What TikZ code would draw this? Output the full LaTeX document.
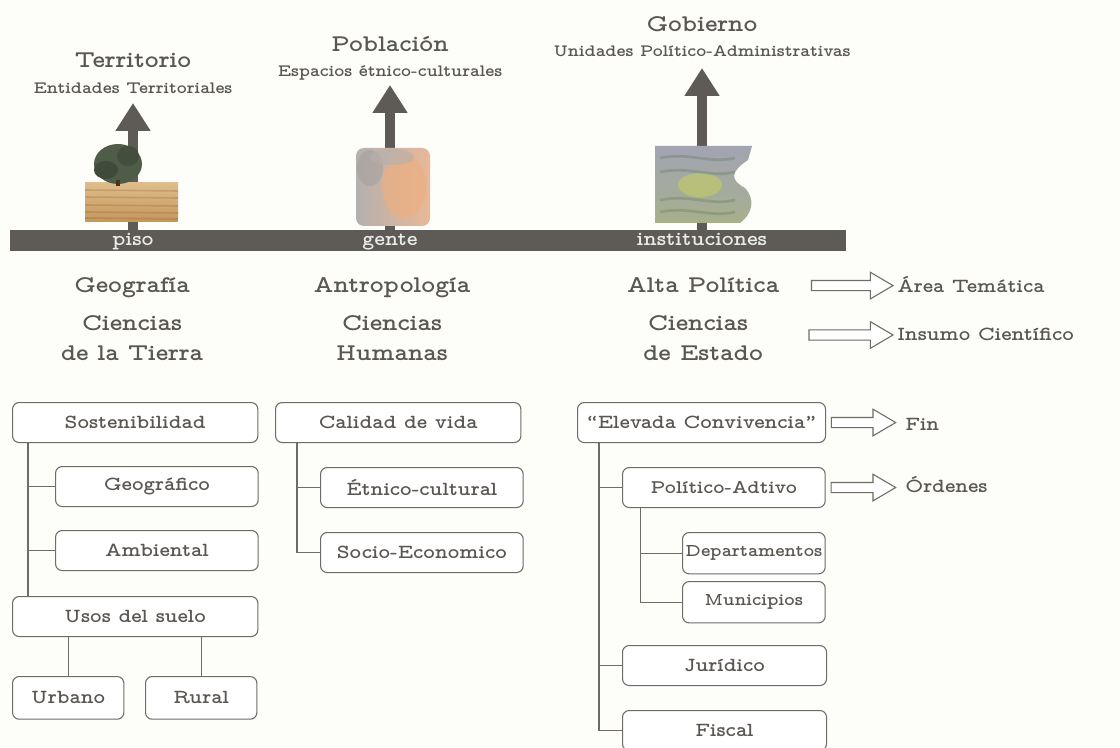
\documentclass[tikz,border=0pt]{standalone}
\usepackage{fontspec}
\setmainfont{lmmonoproplt10-bold.otf}[FakeStretch=1.1]
\usetikzlibrary{arrows.meta,calc,positioning}
\definecolor{ink}{HTML}{5A5652}
\definecolor{edge}{HTML}{6F6B67}
\definecolor{barcol}{HTML}{5E5A56}
\definecolor{paper}{HTML}{FDFDF9}
\definecolor{field}{HTML}{D6AC6E}
\definecolor{fielddark}{HTML}{C4965A}
\definecolor{leaf}{HTML}{4F5C48}
\definecolor{skin}{HTML}{E9B898}
\definecolor{hair}{HTML}{B4B0AE}
\definecolor{hill}{HTML}{A2A4B2}
\definecolor{meadow}{HTML}{AEB88F}
\newcommand{\fs}[1]{\fontsize{#1}{#1}\selectfont}

\begin{document}
\begin{tikzpicture}[x=0.75pt,y=-0.75pt,
	lbl/.style={inner sep=0pt,text=ink,anchor=base},
	ttl/.style={lbl,font=\fs{18}},
	sub/.style={lbl,font=\fs{13}},
	head/.style={lbl,font=\fs{18}},
	side/.style={lbl,anchor=base west,font=\fs{15}},
	box/.style={draw=edge,line width=0.8pt,rounded corners=5pt,fill=white,anchor=north west,
		minimum height=30pt,inner sep=0pt,text=ink,font=\fs{15}},
	bigbox/.style={box,minimum width=184pt},
	midbox/.style={box,minimum width=152pt},
	subbox/.style={box,minimum width=107pt,minimum height=31pt,font=\fs{13.5}},
	leafbox/.style={box,minimum width=83.5pt,minimum height=32pt},
	link/.style={draw=edge,line width=0.9pt},
	uparr/.style={draw=barcol,line width=7.5pt,-{Triangle[width=25pt,length=21pt]}},
	hollow/.style={draw=edge,fill=white,line width=0.8pt,line join=miter,
		to path={let \p1=(\tikztostart),\p2=(\tikztotarget) in
		(\x1,\y1+3.8pt) -- (\x2-17pt,\y1+3.8pt) -- (\x2-17pt,\y1+10pt) -- (\x2,\y1)
		-- (\x2-17pt,\y1-10pt) -- (\x2-17pt,\y1-3.8pt) -- (\x1,\y1-3.8pt) -- cycle}}]
	\fill[paper] (0,0) rectangle (1120,748);
	\useasboundingbox (0,0) rectangle (1120,748);

	\node[draw=none,fill=barcol,minimum width=627pt,minimum height=15.75pt,inner sep=0pt] (bar) at (428,240.5) {};
	\node[lbl,text=white!92!black,font=\fs{15.5}] (piso) at (133,246) {piso};
	\node[lbl,text=white!92!black,font=\fs{15.5}] (gente) at (390,246) {gente};
	\node[lbl,text=white!92!black,font=\fs{15.5}] (inst) at (702,246) {instituciones};

	\node[ttl] (terr) at (133,68) {Territorio};
	\node[sub] (ent) at (133,94) {Entidades Territoriales};
	\node[ttl] (pob) at (390,52) {Población};
	\node[sub] (esp) at (390,77) {Espacios étnico-culturales};
	\node[ttl] (gob) at (702,32) {Gobierno};
	\node[sub] (uni) at (702,57) {Unidades Político-Administrativas};

	\coordinate (tipT) at (133,103);
	\coordinate (tipP) at (390,85);
	\coordinate (tipG) at (702,68);
	\draw[uparr] (piso |- bar.north) -- (tipT);
	\draw[uparr] (gente |- bar.north) -- (tipP);
	\draw[uparr] (inst |- bar.north) -- (tipG);

	% territorio
	\shade[top color=field!80!white,bottom color=fielddark] (85,183) rectangle (178,222);
	\foreach \y in {190,197,205,212,218}
		\draw[brown!70!black,opacity=0.25,line width=1.2pt] (85,\y) -- (178,\y+1);
	\fill[leaf] (118,164) ellipse (24 and 20);
	\fill[leaf!80!black] (106,170) ellipse (12 and 9);
	\fill[leaf!85!black] (128,156) ellipse (11 and 10);
	\fill[brown!40!black] (116,180) rectangle (120,186);
	% poblacion
	\shade[left color=hair,right color=skin,rounded corners=6pt] (356,148) rectangle (430,226);
	\fill[skin!85!orange,opacity=0.7] (404,186) ellipse (22 and 32);
	\fill[hair!90!black,opacity=0.5] (370,168) ellipse (13 and 18);
	\fill[hair,opacity=0.6] (392,157) ellipse (22 and 8);
	% gobierno
	\shade[top color=hill,bottom color=meadow!85!gray]
		(655,146) -- (752,146) -- (748,160) .. controls (730,172) and (730,180) .. (745,188)
		.. controls (756,200) and (752,214) .. (740,223) -- (655,223) -- cycle;
	\fill[meadow!70!yellow,opacity=0.6] (700,185) ellipse (22 and 12);
	\foreach \y in {158,172,200,212}
		\draw[green!25!black,opacity=0.15,line width=2pt] (660,\y) .. controls (690,\y-6) and (710,\y+6) .. (735,\y);

	\node[head] (geog) at (132,293) {Geografía};
	\node[head] (cte1) at (132,330) {Ciencias};
	\node[head] (cte2) at (132,360) {de la Tierra};
	\node[head] (antr) at (392,293) {Antropología};
	\node[head] (chu1) at (392,330) {Ciencias};
	\node[head] (chu2) at (392,360) {Humanas};
	\node[head] (alta) at (703,293) {Alta Política};
	\node[head] (ces1) at (698,330) {Ciencias};
	\node[head] (ces2) at (703,360) {de Estado};

	\node[side] (area) at (897,293) {Área Temática};
	\node[side] (insumo) at (897,340) {Insumo Científico};
	\coordinate (cesR) at (809,335);
	\draw[hollow] ([xshift=24pt]alta.east) to ([xshift=-3pt]area.west);
	\draw[hollow] (cesR) to ([xshift=-3pt]insumo.west);

	% arbol geografia
	\node[bigbox] (sost) at (12,402) {Sostenibilidad};
	\node[midbox] (geo) at (55,466) {Geográfico};
	\node[midbox] (amb) at (55,530) {Ambiental};
	\node[bigbox] (usos) at (12,596) {Usos del suelo};
	\node[leafbox] (urb) at (12,676) {Urbano};
	\node[leafbox] (rur) at (145,676) {Rural};
	\draw[link] ([xshift=12pt]sost.south west) -- ([xshift=12pt]sost.south west |- usos.north);
	\draw[link] ([xshift=12pt]sost.south west |- geo.west) -- (geo.west);
	\draw[link] ([xshift=12pt]sost.south west |- amb.west) -- (amb.west);
	\draw[link] (urb.north) -- (urb.north |- usos.south);
	\draw[link] (rur.north) -- (rur.north |- usos.south);

	% arbol antropologia
	\node[bigbox] (cal) at (275,402) {Calidad de vida};
	\node[midbox] (etn) at (320,467) {Étnico-cultural};
	\node[midbox] (soc) at (320,532) {Socio-Economico};
	\draw[link] ([xshift=16.5pt]cal.south west) |- (soc.west);
	\draw[link] ([xshift=16.5pt]cal.south west |- etn.west) -- (etn.west);

	% arbol alta politica
	\node[bigbox,minimum width=186pt] (elev) at (577,402) {“Elevada Convivencia”};
	\node[midbox,font=\fs{14.5}] (pol) at (622,467) {Político-Adtivo};
	\node[subbox] (dep) at (682,532) {Departamentos};
	\node[subbox] (mun) at (682,581) {Municipios};
	\node[midbox,minimum width=153pt] (jur) at (622,645) {Jurídico};
	\node[midbox,minimum width=153pt] (fis) at (622,710) {Fiscal};
	\draw[link] ([xshift=16.5pt]elev.south west) |- (fis.west);
	\draw[link] ([xshift=16.5pt]elev.south west |- pol.west) -- (pol.west);
	\draw[link] ([xshift=16.5pt]elev.south west |- jur.west) -- (jur.west);
	\draw[link] ([xshift=14pt]pol.south west) |- (mun.west);
	\draw[link] ([xshift=14pt]pol.south west |- dep.west) -- (dep.west);

	\node[side] (fin) at (905,430) {Fin};
	\node[side] (ord) at (905,492) {Órdenes};
	\draw[hollow] ([xshift=4pt]elev.east) to ([xshift=-7pt]fin.west);
	\draw[hollow] ([xshift=4pt]pol.east) to ([xshift=-7pt]ord.west);
\end{tikzpicture}
\end{document}
